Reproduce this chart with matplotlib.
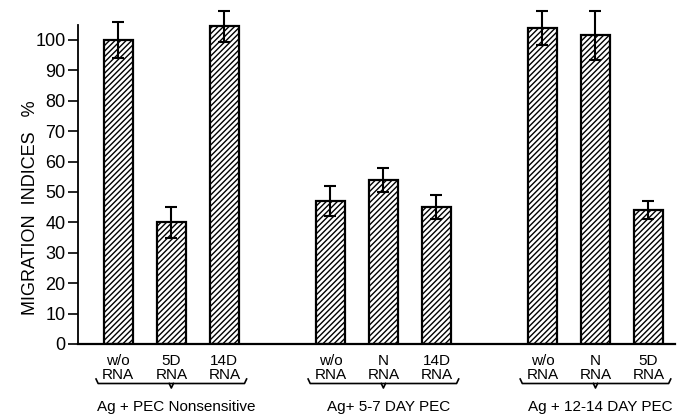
import numpy as np
import matplotlib.pyplot as plt
import matplotlib.transforms as mtransforms

# data
groups = ["Ag + PEC Nonsensitive", "Ag+ 5-7 DAY PEC", "Ag + 12-14 DAY PEC"]
bar_labels = [["w/o", "5D", "14D"], ["w/o", "N", "14D"], ["w/o", "N", "5D"]]
values = [[100, 40, 104.5], [47, 54, 45], [104, 101.5, 44]]
errors = [[6, 5, 5], [5, 4, 4], [5.5, 8, 3]]

plt.rcParams['font.family'] = ['Liberation Sans', 'DejaVu Sans']
plt.rcParams['hatch.linewidth'] = 1.0

fig = plt.figure(figsize=(6.88, 4.2), dpi=100)
ymax = 112
px_per_unit = 3.04
ax_h = ymax * px_per_unit
ax = fig.add_axes([78 / 688, 1 - 344 / 420, (675 - 78) / 688, ax_h / 420])

def below(px):
    # distance below the baseline in pixels -> axes fraction
    return -px / ax_h

trans = mtransforms.blended_transform_factory(ax.transData, ax.transAxes)
for g, (labs, vals, errs) in enumerate(zip(bar_labels, values, errors)):
    x = np.arange(3) + 4 * g
    ax.bar(x, vals, width=0.55, color='white', edgecolor='black',
           linewidth=1.6, hatch='//////', zorder=2)
    ax.errorbar(x, vals, yerr=errs, fmt='none', ecolor='black',
                elinewidth=1.5, capsize=4, capthick=1.5, zorder=3)
    for xi, lab in zip(x, labs):
        ax.text(xi, below(10), lab, transform=trans, ha='center', va='top', fontsize=11)
        ax.text(xi, below(24), "RNA", transform=trans, ha='center', va='top', fontsize=11)
    # brace under the RNA labels
    bx = [x[0] - 0.42, x[0] - 0.38, x[2] + 0.38, x[2] + 0.42]
    by = [below(35), below(39.5), below(39.5), below(35)]
    ax.plot(bx, by, color='black', lw=1.2, transform=trans, clip_on=False)
    ax.plot([x[1] - 0.04, x[1], x[1] + 0.04], [below(39.5), below(44), below(39.5)],
            color='black', lw=1.2, transform=trans, clip_on=False)
    ax.text(x[1] + 0.1, below(56), groups[g], transform=trans, ha='center', va='top',
            fontsize=11)

ax.set_xlim(-0.76, 10.5)
ax.set_ylim(0, ymax)
ax.set_yticks(np.arange(0, 101, 10))
ax.tick_params(axis='y', direction='out', length=7, width=1.2, labelsize=13, pad=2)
ax.set_xticks([])
ax.spines['left'].set_bounds(0, 105)
ax.spines['left'].set_linewidth(1.3)
ax.spines['bottom'].set_linewidth(1.6)
ax.spines['top'].set_visible(False)
ax.spines['right'].set_visible(False)
ax.set_ylabel("MIGRATION  INDICES   %", fontsize=13)
ax.yaxis.set_label_coords(-0.066, 0.40)

fig.savefig("out.png", dpi=100)
